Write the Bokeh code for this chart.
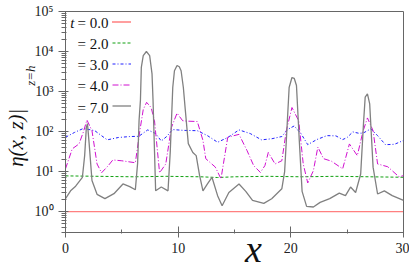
import math
from bokeh.plotting import figure
from bokeh.models import Range1d, FixedTicker, Label, Legend, LegendItem, LogAxis
from bokeh.embed import file_html
from bokeh.resources import INLINE

# ---- data ----
x_t0 = [0, 30]
eta_t0 = [1.0, 1.0]

x_t2 = [0, 3, 6, 9, 12, 13.5, 15, 18, 21, 24, 27, 30]
eta_t2 = [7.8, 7.6, 7.4, 7.6, 7.4, 7.1, 7.4, 7.6, 7.4, 7.6, 7.4, 7.2]

x_t3 = [0, 0.8, 1.6, 2.6, 3.7, 4.7, 5.7, 6.5, 7.3, 8.0, 8.5, 9.0, 9.5, 10.5, 11.7,
        12.6, 13.5, 14.4, 15.4, 16.4, 17.4, 18.3, 19.2, 19.7, 20.3, 20.9, 21.5,
        22.3, 23.2, 24.0, 24.6, 25.0, 25.5, 26.0, 26.4, 26.8, 27.1, 27.7, 28.4,
        29.2, 30]
eta_t3 = [72, 95, 120, 105, 62, 71, 75, 76, 110, 89, 58, 76, 112, 107, 105,
          79, 54, 71, 110, 89, 62, 66, 75, 112, 138, 89, 47,
          63, 79, 78, 63, 71, 98, 91, 91, 105, 117, 79, 47,
          48, 60]

x_t4 = [0, 0.6, 1.2, 1.6, 1.9, 2.35, 2.8, 3.2, 3.8, 4.2, 5.0, 6.2, 6.6, 6.9, 7.2,
        7.6, 7.9, 8.35, 8.9, 9.4, 9.9, 10.4, 10.8, 11.7, 12.2, 12.45, 13.3, 13.8,
        14.4, 15.4, 16.1, 16.7, 17.3, 17.7, 18.0, 18.6, 19.2, 19.6, 20.1, 20.7,
        21.1, 21.5, 22.0, 22.4, 22.9, 23.6, 24.6, 25.2, 25.9, 26.4, 26.8, 27.3,
        27.7, 28.6, 29.6, 30]
eta_t4 = [11.7, 37, 49, 100, 195, 105, 15.5, 9.3, 14.1, 19.5, 18.6, 16.6, 105, 355, 537,
          398, 186, 9.3, 15.5, 126, 288, 186, 182, 178, 60, 21, 12.9, 6.6,
          72, 85, 34, 14.1, 9.5, 14.1, 30, 15.5, 18.6, 105, 398, 186,
          15.5, 5.2, 10.5, 41, 21, 18.2, 11.7, 49, 25, 100, 219, 105,
          15.5, 13.2, 7.4, 7.9]

x_t7 = [0, 0.45, 0.9, 1.5, 1.7, 1.85, 1.95, 2.1, 2.35, 2.8, 3.5, 4.3, 5.1, 5.7, 6.2,
        6.4, 6.53, 6.65, 6.73, 6.9, 7.18, 7.47, 7.68, 7.77, 7.9, 8.0, 8.5, 9.1,
        9.3, 9.52, 9.67, 9.9, 10.1, 10.26, 10.46, 10.64, 10.9, 11.3, 11.6, 11.9,
        12.2, 12.6, 13.0, 13.5, 13.9, 14.5, 15.4, 16.0, 16.6, 17.6, 18.3, 19.2,
        19.45, 19.6, 19.85, 20.1, 20.3, 20.5, 20.75, 21.0, 21.4, 22.0, 22.6, 23.45,
        24.3, 24.85, 25.3, 25.75, 26.2, 26.45, 26.6, 26.8, 27.0, 27.15, 27.3, 27.7,
        28.3, 29.0, 30]
eta_t7 = [2.1, 3.3, 4.3, 7.2, 25, 126, 158, 50, 6.0, 2.7, 2.1, 2.8, 4.9, 4.2, 3.5,
          16, 190, 600, 4000, 7900, 10000, 7900, 2750, 600, 32, 3.3, 4.1, 3.3,
          32, 1260, 3300, 4470, 4170, 3300, 1260, 330, 50, 30, 25, 8,
          3.3, 4.9, 7.2, 2.5, 1.4, 3.0, 4.9, 3.2, 1.9, 1.6, 2.1, 3.7,
          10, 60, 1260, 2240, 2140, 1410, 60, 3.2, 1.35, 1.3, 1.7, 2.1,
          2.9, 2.5, 4.1, 3.0, 8.7, 160, 724, 871, 490, 80, 12.9, 2.75,
          3.3, 2.5, 1.9]

legend_labels = ["= 0.0", "= 2.0", "= 3.0", "= 4.0", "= 7.0"]
y_tick_vals = [1, 10, 100, 1000, 10000, 100000]
y_tick_text = ["10\u2070", "10\u00b9", "10\u00b2", "10\u00b3", "10\u2074", "10\u2075"]
y_minor_vals = [m * 10.0 ** k for k in range(-1, 5) for m in range(2, 10)]
x_tick_vals = [0, 10, 20, 30]
x_minor_vals = [5, 15, 25]
y_title = "\u03b7(x, z)|" + "\u00a0" * 6
y_title_sub = "z=h"
sub_pos = [2500]
x_title = "\u00a0" * 4 + "x"

SERIF = "Liberation Serif"
AX = "#666666"

p = figure(width=409, height=272, y_axis_type="log",
           x_range=Range1d(0, 30), y_range=Range1d(0.3, 1e5),
           output_backend="svg", toolbar_location=None,
           min_border_left=62, min_border_right=6, min_border_top=11,
           min_border_bottom=40)
p.background_fill_color = "white"
p.border_fill_color = "white"
p.outline_line_color = AX
p.xgrid.visible = False
p.ygrid.visible = False

r0 = p.line(x_t0, eta_t0, line_color="#ff0000", line_width=1.3, line_dash="1 1")
r2 = p.line(x_t2, eta_t2, line_color="#10a010", line_width=1, line_dash="3 2")
r3 = p.line(x_t3, eta_t3, line_color="#2020ff", line_width=1, line_dash="3 2 1 2")
r4 = p.line(x_t4, eta_t4, line_color="#d010d0", line_width=1, line_dash="6 2 1 2")
r7 = p.line(x_t7, eta_t7, line_color="#808080", line_width=1.3)

# x axis
xa = p.xaxis[0]
xa.ticker = FixedTicker(ticks=x_tick_vals, minor_ticks=x_minor_vals)
xa.major_tick_in = 6
xa.major_tick_out = 5
xa.minor_tick_in = 3
xa.minor_tick_out = 1
xa.major_label_standoff = 5
xa.major_label_text_font = SERIF
xa.major_label_text_font_size = "14px"
xa.major_label_text_color = "#222222"
xa.axis_line_color = AX
xa.major_tick_line_color = AX
xa.minor_tick_line_color = AX
xa.axis_label = x_title
xa.axis_label_text_font = SERIF
xa.axis_label_text_font_style = "italic"
xa.axis_label_text_font_size = "38px"
xa.axis_label_text_color = "#111111"
xa.axis_label_standoff = -28

# y axis (decade labels)
ya = p.yaxis[0]
ya.ticker = FixedTicker(ticks=y_tick_vals, minor_ticks=y_minor_vals)
ya.major_label_overrides = {v: t for v, t in zip(y_tick_vals, y_tick_text)}
ya.major_tick_in = 3
ya.major_tick_out = 7
ya.minor_tick_in = 1
ya.minor_tick_out = 4
ya.major_label_standoff = 5
ya.major_label_text_font = SERIF
ya.major_label_text_font_size = "14px"
ya.major_label_text_color = "#222222"
ya.axis_line_color = AX
ya.major_tick_line_color = AX
ya.minor_tick_line_color = AX

# outer left axis: carries the y title and its subscript
ya2 = LogAxis(ticker=FixedTicker(ticks=sub_pos, minor_ticks=[]),
              major_label_overrides={sub_pos[0]: y_title_sub},
              axis_line_color=None, major_tick_line_color=None,
              minor_tick_line_color=None,
              major_tick_in=0, major_tick_out=0,
              major_label_orientation="parallel",
              major_label_standoff=-7,
              major_label_text_font=SERIF, major_label_text_font_style="italic",
              major_label_text_font_size="13px", major_label_text_color="#111111",
              axis_label=y_title, axis_label_standoff=-7,
              axis_label_text_font=SERIF, axis_label_text_font_style="italic",
              axis_label_text_font_size="21px", axis_label_text_color="#111111")
p.add_layout(ya2, "left")

# legend: line samples via Legend, texts via labels to their left
legend = Legend(items=[LegendItem(label=" ", renderers=[r]) for r in (r0, r2, r3, r4, r7)],
                location=(47, 116), padding=0, margin=0, spacing=0,
                glyph_width=19, glyph_height=21, label_height=21, label_width=0,
                label_standoff=0, label_text_font_size="1px",
                border_line_color=None, background_fill_alpha=0)
p.add_layout(legend)

row_y = [210, 189, 168, 147, 125]
for txt, yy in zip(legend_labels, row_y):
    p.add_layout(Label(x=43, y=yy, x_units="screen", y_units="screen", text=txt,
                       text_align="right", text_baseline="middle",
                       text_font=SERIF, text_font_size="15px", text_color="#111111"))
p.add_layout(Label(x=9, y=row_y[0], x_units="screen", y_units="screen", text="t",
                   text_align="right", text_baseline="middle",
                   text_font=SERIF, text_font_style="italic",
                   text_font_size="15px", text_color="#111111"))

open("out.html", "w").write(file_html(p, INLINE))
